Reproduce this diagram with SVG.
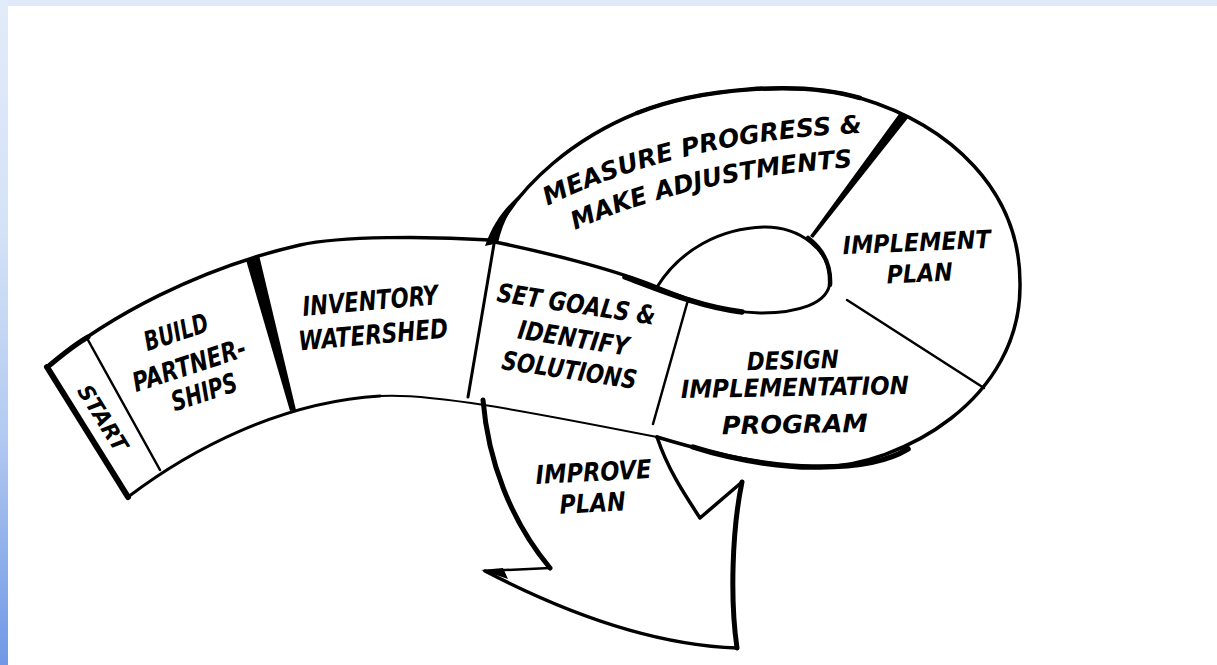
<svg xmlns="http://www.w3.org/2000/svg" xmlns:xlink="http://www.w3.org/1999/xlink" width="1217" height="665" viewBox="0 0 1217 665">
<defs>
<style>
.lbl{font-family:'DejaVu Sans Condensed','DejaVu Sans','Liberation Sans',sans-serif;font-stretch:condensed;font-weight:bold;font-style:italic;fill:#000;text-anchor:middle;}
.region{fill:#fff;stroke:none;}
.ln{fill:none;stroke:#000;stroke-linecap:round;stroke-linejoin:round;}
.wedge{fill:#000;stroke:none;}
</style>
<linearGradient id="bgL" x1="0" y1="0" x2="0" y2="1">
<stop offset="0" stop-color="#e2ebf9"/>
<stop offset="0.35" stop-color="#d4e2f7"/>
<stop offset="0.65" stop-color="#b3caf1"/>
<stop offset="1" stop-color="#7098e6"/>
</linearGradient>
<path id="pM1" d="M545,207 Q684,139 865,133"/>
<path id="pM2" d="M573,231 Q691,178 855,167"/>
</defs>
<rect x="0" y="0" width="1217" height="665" fill="#fff"/>
<rect x="0" y="0" width="1217" height="6" fill="#dfe9f8"/>
<rect x="0" y="0" width="8" height="665" fill="url(#bgL)"/>

<g id="improve-plan">
<path class="region" d="M483,400 C488,460 510,520 550,568 L485,571 C560,610 650,645 737,648 C730,600 732,530 742,482 L700,518 C685,495 668,470 657,437 L570,418 Z"/>
<text class="lbl" font-size="26" transform="translate(594,481) rotate(-3)" textLength="116" lengthAdjust="spacingAndGlyphs">IMPROVE</text>
<text class="lbl" font-size="26" transform="translate(593,512) rotate(-3)" textLength="66" lengthAdjust="spacingAndGlyphs">PLAN</text>
</g>

<g id="measure-progress">
<path class="region" d="M490,243 C520,180 580,136 637,113 C700,88 800,80 860,98 L903,117 L812,237 C800,229 785,227 765,227 C720,228 680,250 657,287 C610,268 540,252 490,243 Z"/>
<text class="lbl" font-size="25"><textPath xlink:href="#pM1" href="#pM1" startOffset="50%" textLength="325" lengthAdjust="spacingAndGlyphs">MEASURE PROGRESS &amp;</textPath></text>
<text class="lbl" font-size="25"><textPath xlink:href="#pM2" href="#pM2" startOffset="50%" textLength="286" lengthAdjust="spacingAndGlyphs">MAKE ADJUSTMENTS</textPath></text>
</g>

<g id="implement-plan">
<path class="region" d="M903,117 C950,125 1020,190 1020,283 C1020,330 1008,365 985,389 L847,300 C826,305 830,290 830,280 C830,260 822,245 812,237 Z"/>
<text class="lbl" font-size="25" transform="translate(917,251) rotate(-2.5)" textLength="148" lengthAdjust="spacingAndGlyphs">IMPLEMENT</text>
<text class="lbl" font-size="25" transform="translate(920,282) rotate(-2.5)" textLength="66" lengthAdjust="spacingAndGlyphs">PLAN</text>
</g>

<g id="design-program">
<path class="region" d="M657,287 C690,300 720,312 760,313 C795,313 815,306 847,300 L985,389 C960,420 900,466 820,467 C770,468 700,450 653,424 L688,300 Z"/>
<text class="lbl" font-size="25" transform="translate(793,369) rotate(-1.5)" textLength="92" lengthAdjust="spacingAndGlyphs">DESIGN</text>
<text class="lbl" font-size="25" transform="translate(795,396) rotate(-1)" textLength="228" lengthAdjust="spacingAndGlyphs">IMPLEMENTATION</text>
<text class="lbl" font-size="25" transform="translate(795,433) rotate(-1)" textLength="146" lengthAdjust="spacingAndGlyphs">PROGRAM</text>
</g>

<g id="start">
<path class="region" d="M47,367 L88,340 L160,470 L128,497 Z"/>
<text class="lbl" font-size="22" transform="translate(103,418) rotate(58)" y="8" textLength="74" lengthAdjust="spacingAndGlyphs">START</text>
</g>

<g id="build-partnerships">
<path class="region" d="M88,340 L163,295 L253,257 L293,410 L230,437 L160,470 Z"/>
<text class="lbl" font-size="27" transform="translate(179,341) rotate(-18)" textLength="66" lengthAdjust="spacingAndGlyphs">BUILD</text>
<text class="lbl" font-size="27" transform="translate(192,374) rotate(-18)" textLength="118" lengthAdjust="spacingAndGlyphs">PARTNER-</text>
<text class="lbl" font-size="27" transform="translate(207,401) rotate(-18)" textLength="68" lengthAdjust="spacingAndGlyphs">SHIPS</text>
</g>

<g id="inventory-watershed">
<path class="region" d="M253,257 L363,237 L490,240 L468,397 L380,396 L293,410 Z"/>
<text class="lbl" font-size="27" transform="translate(371,310) rotate(-5)" textLength="136" lengthAdjust="spacingAndGlyphs">INVENTORY</text>
<text class="lbl" font-size="27" transform="translate(374,344) rotate(-5)" textLength="150" lengthAdjust="spacingAndGlyphs">WATERSHED</text>
</g>

<g id="set-goals">
<path class="region" d="M492,241 C540,252 610,268 657,287 L688,300 L653,424 L570,418 L468,397 Z"/>
<text class="lbl" font-size="26" transform="translate(575,313) rotate(8.5)" textLength="160" lengthAdjust="spacingAndGlyphs">SET GOALS &amp;</text>
<text class="lbl" font-size="26" transform="translate(572,347) rotate(9)" textLength="112" lengthAdjust="spacingAndGlyphs">IDENTIFY</text>
<text class="lbl" font-size="26" transform="translate(568,379) rotate(8.5)" textLength="136" lengthAdjust="spacingAndGlyphs">SOLUTIONS</text>
</g>

<g id="outline">
<path class="ln" stroke-width="6" stroke-linecap="butt" d="M47,367 L128,497"/>
<path class="ln" stroke-width="3.5" d="M47,367 C110,315 200,268 300,245 C340,236 430,236 490,240"/>
<path class="ln" stroke-width="5" d="M50,365 C62,355 74,345 88,337"/>
<path class="ln" stroke-width="3" d="M128,497 C190,450 280,402 380,396"/>
<path class="ln" stroke-width="2" d="M380,396 C430,393 520,410 657,437"/>
<path class="ln" stroke-width="2.5" d="M88,340 L160,470"/>
<path class="wedge" d="M246,260 L259,255 L296,410 L290,411 Z"/>
<path class="ln" stroke-width="3" d="M494,244 L468,397"/>
<path class="ln" stroke-width="3.5" d="M490,241 C540,251 610,268 657,287"/>
<path class="ln" stroke-width="5.5" d="M625,277 C660,290 700,307 742,312"/>
<path class="ln" stroke-width="2.5" d="M688,300 L653,424"/>
<path class="ln" stroke-width="3.5" d="M657,437 C700,450 770,468 820,467 C900,466 1022,400 1020,283 C1020,190 950,125 860,98 C800,80 700,88 637,113 C580,136 520,180 490,243"/>
<path class="ln" stroke-width="5.5" d="M693,447 C740,462 790,468 820,467 C860,467 890,460 908,449"/>
<path class="ln" stroke-width="4.5" d="M637,113 C700,88 800,80 860,98"/>
<path class="wedge" d="M485,246 L498,243 C502,225 510,208 523,192 C507,205 493,222 485,246 Z"/>
<path class="ln" stroke-width="3" d="M657,287 C680,250 720,228 765,227 C800,227 830,250 830,280 C830,305 795,313 760,313 C720,312 690,300 657,287 Z"/>
<path class="ln" stroke-width="4.5" d="M808,238 C825,251 831,266 830,285"/>
<path class="wedge" d="M899,114 L908,118 L813,238 L810,236 Z"/>
<path class="ln" stroke-width="2.5" d="M847,300 L984,388"/>
<path class="ln" stroke-width="5" d="M483,400 C488,460 510,520 550,568"/>
<path class="ln" stroke-width="2.5" d="M550,568 L485,571"/>
<path class="wedge" d="M481,570 L503,568 L508,579 Z"/>
<path class="ln" stroke-width="3.5" d="M485,571 C560,610 650,645 737,648"/>
<path class="ln" stroke-width="5" d="M737,648 C730,600 732,530 742,482"/>
<path class="ln" stroke-width="3.5" d="M742,482 L700,518 C685,495 668,470 657,437"/>
</g>
</svg>
